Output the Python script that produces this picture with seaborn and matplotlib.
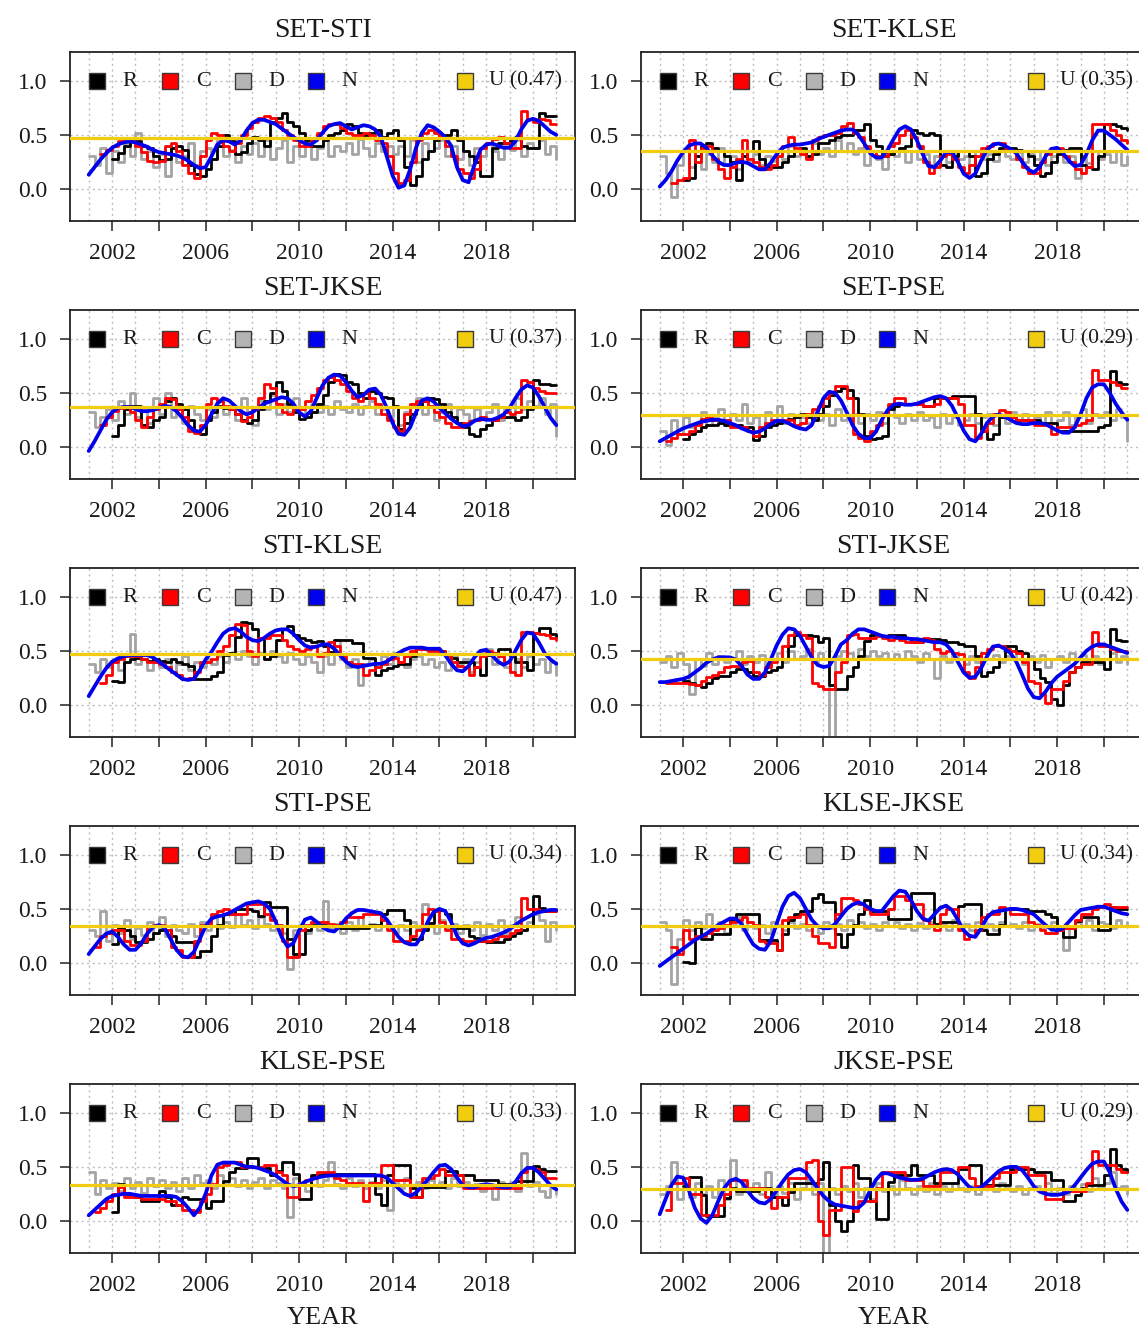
import numpy as np
import pandas as pd
import matplotlib
matplotlib.use("Agg")
import matplotlib.pyplot as plt
from matplotlib.ticker import MultipleLocator
import seaborn as sns

nan = np.nan

# quarterly time grid shared by every series
quarters = np.arange(2001.0, 2021.0 + 1e-9, 0.25)

pairs = ["SET-STI", "SET-KLSE", "SET-JKSE", "SET-PSE", "STI-KLSE",
         "STI-JKSE", "STI-PSE", "KLSE-JKSE", "KLSE-PSE", "JKSE-PSE"]
u_levels = [0.47, 0.35, 0.37, 0.29, 0.47, 0.42, 0.34, 0.34, 0.33, 0.29]

# ---- SET-STI ----
set_sti_R = [nan, nan, nan, nan, 0.28, 0.33, 0.40, 0.45, 0.44, 0.40, 0.38, 0.30, 0.27, 0.28, 0.38, 0.40,
             0.36, 0.22, 0.14, 0.12, 0.18, 0.28, 0.40, 0.50, 0.44, 0.32, 0.34, 0.42, 0.48, 0.45, 0.40, 0.62,
             0.66, 0.70, 0.62, 0.58, 0.52, 0.45, 0.40, 0.40, 0.45, 0.50, 0.52, 0.55, 0.60, 0.58, 0.52, 0.50,
             0.52, 0.55, 0.48, 0.52, 0.55, 0.45, 0.20, 0.03, 0.12, 0.28, 0.35, 0.45, 0.48, 0.50, 0.55, 0.45,
             0.35, 0.30, 0.25, 0.12, 0.12, 0.38, 0.42, 0.42, 0.45, 0.48, 0.40, 0.38, 0.38, 0.70, 0.68, 0.68, 0.68]
set_sti_C = [nan, nan, 0.32, 0.36, 0.40, 0.44, 0.45, 0.44, 0.40, 0.34, 0.26, 0.25, 0.26, 0.40, 0.42, 0.35,
             0.22, 0.15, 0.10, 0.30, 0.45, 0.52, 0.50, 0.40, 0.35, 0.42, 0.50, 0.56, 0.62, 0.66, 0.68, 0.66,
             0.62, 0.55, 0.50, 0.45, 0.40, 0.40, 0.45, 0.52, 0.58, 0.60, 0.60, 0.56, 0.52, 0.50, 0.50, 0.52,
             0.50, 0.45, 0.42, 0.30, 0.15, 0.05, 0.08, 0.25, 0.45, 0.52, 0.55, 0.52, 0.48, 0.40, 0.30, 0.18,
             0.15, 0.10, 0.18, 0.38, 0.42, 0.46, 0.48, 0.42, 0.38, 0.38, 0.72, 0.65, 0.62, 0.65, 0.64, 0.60, 0.60]
set_sti_D = [0.30, 0.22, 0.38, 0.15, 0.35, 0.25, 0.42, 0.30, 0.52, 0.28, 0.35, 0.20, 0.32, 0.12, 0.38, 0.25,
             0.30, 0.42, 0.22, 0.35, 0.38, 0.28, 0.45, 0.30, 0.36, 0.25, 0.40, 0.32, 0.42, 0.30, 0.45, 0.28,
             0.38, 0.45, 0.25, 0.40, 0.30, 0.42, 0.28, 0.38, 0.45, 0.30, 0.40, 0.35, 0.42, 0.32, 0.46, 0.38,
             0.30, 0.42, 0.35, 0.40, 0.32, 0.40, 0.30, 0.45, 0.25, 0.42, 0.35, 0.38, 0.45, 0.30, 0.40, 0.28,
             0.35, 0.22, 0.38, 0.30, 0.42, 0.35, 0.28, 0.40, 0.36, 0.45, 0.30, 0.42, 0.38, 0.45, 0.32, 0.40, 0.28]
set_sti_N = [0.13, 0.20, 0.27, 0.33, 0.38, 0.41, 0.43, 0.44, 0.43, 0.41, 0.39, 0.36, 0.34, 0.33, 0.32, 0.31,
             0.29, 0.26, 0.22, 0.19, 0.20, 0.30, 0.41, 0.45, 0.44, 0.41, 0.45, 0.54, 0.61, 0.64, 0.64, 0.62,
             0.60, 0.56, 0.52, 0.48, 0.45, 0.42, 0.41, 0.45, 0.52, 0.58, 0.60, 0.61, 0.58, 0.55, 0.57, 0.59,
             0.58, 0.55, 0.48, 0.30, 0.12, 0.01, 0.03, 0.18, 0.38, 0.52, 0.59, 0.57, 0.53, 0.48, 0.40, 0.20,
             0.08, 0.06, 0.22, 0.36, 0.41, 0.42, 0.40, 0.38, 0.38, 0.44, 0.55, 0.63, 0.65, 0.63, 0.58, 0.53, 0.50]

# ---- SET-KLSE ----
set_klse_R = [nan, nan, nan, nan, 0.08, 0.10, 0.30, 0.40, 0.42, 0.38, 0.35, 0.30, 0.25, 0.08, 0.30, 0.35,
              0.44, 0.28, 0.20, 0.20, 0.20, 0.25, 0.30, 0.35, 0.38, 0.30, 0.32, 0.42, 0.42, 0.45, 0.48, 0.50,
              0.50, 0.55, 0.55, 0.60, 0.45, 0.40, 0.30, 0.32, 0.35, 0.38, 0.40, 0.55, 0.52, 0.50, 0.52, 0.50,
              0.22, 0.20, 0.30, 0.35, 0.35, 0.30, 0.12, 0.15, 0.28, 0.32, 0.38, 0.38, 0.38, 0.36, 0.35, 0.30,
              0.22, 0.12, 0.15, 0.25, 0.32, 0.36, 0.38, 0.38, 0.22, 0.20, 0.18, 0.30, 0.60, 0.60, 0.58, 0.56, 0.55]
set_klse_C = [nan, nan, 0.05, 0.08, 0.10, 0.45, 0.25, 0.38, 0.40, 0.28, 0.18, 0.10, 0.20, 0.28, 0.45, 0.28,
              0.25, 0.20, 0.18, 0.22, 0.30, 0.40, 0.48, 0.38, 0.32, 0.28, 0.45, 0.48, 0.50, 0.50, 0.52, 0.58,
              0.61, 0.52, 0.48, 0.40, 0.35, 0.30, 0.30, 0.40, 0.42, 0.50, 0.55, 0.48, 0.40, 0.25, 0.15, 0.20,
              0.30, 0.32, 0.28, 0.20, 0.15, 0.22, 0.30, 0.38, 0.40, 0.42, 0.42, 0.38, 0.35, 0.28, 0.20, 0.15,
              0.15, 0.25, 0.32, 0.38, 0.38, 0.30, 0.25, 0.18, 0.15, 0.20, 0.60, 0.60, 0.60, 0.55, 0.50, 0.45, 0.42]
set_klse_D = [0.30, 0.15, -0.08, 0.22, 0.35, 0.20, 0.30, 0.18, 0.32, 0.25, 0.38, 0.22, 0.30, 0.18, 0.35, 0.25,
              0.32, 0.22, 0.30, 0.26, 0.35, 0.28, 0.40, 0.30, 0.36, 0.30, 0.42, 0.32, 0.38, 0.30, 0.45, 0.35,
              0.42, 0.32, 0.38, 0.22, 0.35, 0.28, 0.18, 0.32, 0.30, 0.38, 0.25, 0.35, 0.28, 0.32, 0.22, 0.30,
              0.35, 0.25, 0.32, 0.28, 0.30, 0.22, 0.35, 0.28, 0.32, 0.26, 0.35, 0.30, 0.28, 0.34, 0.25, 0.32,
              0.28, 0.35, 0.22, 0.30, 0.33, 0.25, 0.30, 0.10, 0.30, 0.24, 0.35, 0.28, 0.32, 0.25, 0.35, 0.22, 0.30]
set_klse_N = [0.02, 0.08, 0.16, 0.26, 0.34, 0.40, 0.42, 0.42, 0.38, 0.31, 0.25, 0.22, 0.22, 0.24, 0.25, 0.24,
              0.21, 0.18, 0.18, 0.24, 0.32, 0.38, 0.40, 0.41, 0.41, 0.42, 0.43, 0.46, 0.48, 0.50, 0.52, 0.54,
              0.55, 0.55, 0.50, 0.42, 0.33, 0.29, 0.29, 0.36, 0.46, 0.55, 0.58, 0.55, 0.45, 0.32, 0.21, 0.20,
              0.26, 0.34, 0.34, 0.25, 0.14, 0.10, 0.14, 0.26, 0.36, 0.41, 0.42, 0.40, 0.37, 0.33, 0.25, 0.18,
              0.15, 0.20, 0.30, 0.37, 0.38, 0.33, 0.26, 0.21, 0.22, 0.32, 0.45, 0.54, 0.54, 0.50, 0.46, 0.41, 0.36]

# ---- SET-JKSE ----
set_jkse_R = [nan, nan, nan, nan, 0.10, 0.20, 0.35, 0.38, 0.38, 0.20, 0.18, 0.25, 0.28, 0.42, 0.45, 0.40,
              0.35, 0.25, 0.15, 0.12, 0.25, 0.32, 0.38, 0.36, 0.35, 0.30, 0.25, 0.22, 0.25, 0.35, 0.42, 0.50,
              0.60, 0.52, 0.40, 0.32, 0.26, 0.28, 0.32, 0.40, 0.48, 0.60, 0.68, 0.67, 0.60, 0.58, 0.50, 0.45,
              0.52, 0.50, 0.46, 0.45, 0.38, 0.16, 0.22, 0.30, 0.38, 0.42, 0.45, 0.44, 0.40, 0.32, 0.28, 0.22,
              0.18, 0.12, 0.10, 0.16, 0.20, 0.25, 0.28, 0.28, 0.28, 0.25, 0.28, 0.35, 0.62, 0.58, 0.58, 0.57, 0.57]
set_jkse_C = [nan, nan, 0.20, 0.28, 0.33, 0.36, 0.37, 0.32, 0.25, 0.18, 0.28, 0.35, 0.40, 0.45, 0.44, 0.35,
              0.28, 0.15, 0.13, 0.20, 0.40, 0.45, 0.42, 0.38, 0.35, 0.30, 0.24, 0.28, 0.35, 0.45, 0.58, 0.55,
              0.40, 0.32, 0.30, 0.35, 0.35, 0.42, 0.48, 0.55, 0.62, 0.65, 0.62, 0.58, 0.52, 0.45, 0.42, 0.50,
              0.45, 0.40, 0.30, 0.25, 0.18, 0.15, 0.30, 0.40, 0.42, 0.42, 0.38, 0.32, 0.28, 0.22, 0.18, 0.18,
              0.22, 0.24, 0.25, 0.28, 0.26, 0.25, 0.28, 0.32, 0.30, 0.32, 0.62, 0.60, 0.55, 0.52, 0.50, 0.50, 0.50]
set_jkse_D = [0.32, 0.18, 0.28, 0.35, 0.25, 0.42, 0.30, 0.50, 0.28, 0.35, 0.22, 0.45, 0.30, 0.50, 0.28, 0.35,
              0.22, 0.38, 0.30, 0.25, 0.35, 0.28, 0.42, 0.30, 0.38, 0.25, 0.45, 0.32, 0.20, 0.42, 0.35, 0.48,
              0.30, 0.40, 0.32, 0.45, 0.35, 0.28, 0.40, 0.32, 0.38, 0.30, 0.42, 0.35, 0.32, 0.40, 0.30, 0.38,
              0.42, 0.30, 0.35, 0.28, 0.38, 0.20, 0.32, 0.40, 0.45, 0.30, 0.38, 0.25, 0.32, 0.40, 0.28, 0.35,
              0.30, 0.25, 0.35, 0.28, 0.32, 0.40, 0.25, 0.35, 0.30, 0.45, 0.35, 0.42, 0.38, 0.45, 0.30, 0.40, 0.10]
set_jkse_N = [-0.04, 0.05, 0.15, 0.25, 0.32, 0.36, 0.37, 0.37, 0.35, 0.33, 0.33, 0.34, 0.36, 0.38, 0.37, 0.33,
              0.27, 0.20, 0.15, 0.14, 0.20, 0.30, 0.40, 0.45, 0.43, 0.38, 0.33, 0.30, 0.32, 0.36, 0.40, 0.42,
              0.44, 0.46, 0.45, 0.40, 0.32, 0.28, 0.33, 0.45, 0.57, 0.64, 0.67, 0.66, 0.60, 0.52, 0.46, 0.48,
              0.53, 0.54, 0.48, 0.36, 0.22, 0.12, 0.11, 0.18, 0.32, 0.43, 0.45, 0.42, 0.36, 0.31, 0.26, 0.22,
              0.19, 0.20, 0.24, 0.26, 0.25, 0.25, 0.27, 0.30, 0.36, 0.45, 0.53, 0.57, 0.55, 0.47, 0.37, 0.27, 0.20]

# ---- SET-PSE ----
set_pse_R = [nan, nan, nan, nan, 0.07, 0.12, 0.15, 0.18, 0.20, 0.20, 0.22, 0.20, 0.20, 0.20, 0.18, 0.18,
             0.06, 0.10, 0.18, 0.20, 0.22, 0.24, 0.26, 0.28, 0.30, 0.28, 0.25, 0.30, 0.38, 0.48, 0.52, 0.55,
             0.53, 0.45, 0.30, 0.10, 0.07, 0.08, 0.10, 0.35, 0.38, 0.40, 0.40, 0.40, 0.40, 0.38, 0.38, 0.45,
             0.45, 0.45, 0.47, 0.47, 0.47, 0.47, 0.30, 0.15, 0.07, 0.12, 0.28, 0.28, 0.28, 0.25, 0.25, 0.25,
             0.25, 0.22, 0.22, 0.22, 0.15, 0.15, 0.15, 0.15, 0.15, 0.15, 0.15, 0.18, 0.20, 0.70, 0.60, 0.58, 0.58]
set_pse_C = [nan, 0.05, 0.08, 0.12, 0.12, 0.15, 0.20, 0.26, 0.28, 0.25, 0.25, 0.25, 0.18, 0.18, 0.18, 0.15,
             0.10, 0.18, 0.22, 0.25, 0.25, 0.25, 0.25, 0.20, 0.22, 0.30, 0.35, 0.38, 0.45, 0.50, 0.56, 0.56,
             0.45, 0.12, 0.08, 0.05, 0.15, 0.20, 0.30, 0.40, 0.45, 0.45, 0.40, 0.40, 0.40, 0.38, 0.38, 0.40,
             0.45, 0.45, 0.45, 0.40, 0.20, 0.20, 0.08, 0.15, 0.22, 0.30, 0.34, 0.32, 0.28, 0.25, 0.25, 0.25,
             0.20, 0.20, 0.20, 0.12, 0.18, 0.18, 0.18, 0.20, 0.22, 0.25, 0.71, 0.62, 0.62, 0.60, 0.57, 0.55, 0.55]
set_pse_D = [0.15, 0.02, 0.25, 0.12, 0.28, 0.18, 0.22, 0.32, 0.20, 0.28, 0.35, 0.22, 0.30, 0.25, 0.40, 0.22,
             0.28, 0.18, 0.32, 0.25, 0.38, 0.22, 0.30, 0.20, 0.28, 0.22, 0.32, 0.25, 0.30, 0.20, 0.35, 0.25,
             0.28, 0.30, 0.22, 0.30, 0.25, 0.32, 0.22, 0.35, 0.28, 0.22, 0.30, 0.25, 0.32, 0.25, 0.28, 0.18,
             0.30, 0.22, 0.28, 0.20, 0.25, 0.30, 0.22, 0.28, 0.30, 0.20, 0.28, 0.22, 0.32, 0.25, 0.30, 0.22,
             0.28, 0.20, 0.32, 0.22, 0.25, 0.32, 0.20, 0.28, 0.35, 0.22, 0.30, 0.28, 0.32, 0.25, 0.35, 0.28, 0.05]
set_pse_N = [0.05, 0.08, 0.11, 0.14, 0.17, 0.19, 0.21, 0.23, 0.24, 0.25, 0.25, 0.24, 0.22, 0.20, 0.17, 0.15,
             0.13, 0.14, 0.17, 0.21, 0.24, 0.24, 0.22, 0.19, 0.17, 0.16, 0.20, 0.32, 0.45, 0.51, 0.50, 0.43,
             0.32, 0.20, 0.12, 0.08, 0.08, 0.14, 0.25, 0.34, 0.39, 0.40, 0.39, 0.39, 0.40, 0.42, 0.44, 0.46,
             0.47, 0.45, 0.38, 0.27, 0.15, 0.07, 0.05, 0.12, 0.22, 0.28, 0.30, 0.28, 0.25, 0.22, 0.21, 0.21,
             0.22, 0.22, 0.21, 0.18, 0.15, 0.13, 0.13, 0.18, 0.30, 0.45, 0.55, 0.58, 0.58, 0.50, 0.40, 0.32, 0.25]

# ---- STI-KLSE ----
sti_klse_R = [nan, nan, nan, nan, 0.22, 0.21, 0.40, 0.42, 0.43, 0.42, 0.41, 0.42, 0.41, 0.40, 0.42, 0.40,
              0.38, 0.36, 0.24, 0.24, 0.24, 0.27, 0.30, 0.46, 0.48, 0.63, 0.77, 0.76, 0.70, 0.62, 0.42, 0.45,
              0.60, 0.70, 0.73, 0.65, 0.62, 0.60, 0.58, 0.59, 0.55, 0.49, 0.60, 0.60, 0.60, 0.57, 0.57, 0.43,
              0.43, 0.28, 0.32, 0.34, 0.36, 0.38, 0.38, 0.45, 0.53, 0.52, 0.51, 0.51, 0.50, 0.46, 0.43, 0.40,
              0.40, 0.40, 0.35, 0.28, 0.46, 0.48, 0.52, 0.52, 0.45, 0.40, 0.40, 0.32, 0.67, 0.71, 0.71, 0.66, 0.63]
sti_klse_C = [nan, nan, 0.20, 0.28, 0.40, 0.42, 0.45, 0.45, 0.45, 0.42, 0.40, 0.40, 0.38, 0.35, 0.30, 0.28,
              0.24, 0.25, 0.30, 0.40, 0.40, 0.42, 0.50, 0.55, 0.65, 0.75, 0.74, 0.50, 0.45, 0.62, 0.62, 0.65,
              0.65, 0.60, 0.55, 0.52, 0.50, 0.52, 0.55, 0.45, 0.48, 0.58, 0.55, 0.45, 0.40, 0.38, 0.38, 0.28,
              0.32, 0.35, 0.38, 0.42, 0.43, 0.40, 0.45, 0.50, 0.52, 0.52, 0.50, 0.50, 0.50, 0.45, 0.40, 0.36,
              0.35, 0.28, 0.35, 0.45, 0.50, 0.48, 0.45, 0.40, 0.30, 0.28, 0.68, 0.68, 0.67, 0.66, 0.65, 0.62, 0.60]
sti_klse_D = [0.38, 0.30, 0.42, 0.35, 0.40, 0.32, 0.45, 0.66, 0.38, 0.42, 0.32, 0.40, 0.35, 0.42, 0.30, 0.38,
              0.45, 0.32, 0.40, 0.35, 0.42, 0.38, 0.45, 0.40, 0.48, 0.42, 0.50, 0.45, 0.38, 0.48, 0.42, 0.50,
              0.45, 0.40, 0.48, 0.42, 0.38, 0.45, 0.40, 0.30, 0.45, 0.38, 0.60, 0.42, 0.35, 0.42, 0.18, 0.38,
              0.42, 0.35, 0.45, 0.38, 0.48, 0.40, 0.35, 0.42, 0.45, 0.38, 0.42, 0.35, 0.40, 0.32, 0.45, 0.38,
              0.42, 0.30, 0.40, 0.48, 0.52, 0.38, 0.45, 0.35, 0.30, 0.42, 0.35, 0.45, 0.38, 0.42, 0.30, 0.40, 0.28]
sti_klse_N = [0.08, 0.17, 0.26, 0.34, 0.40, 0.43, 0.45, 0.46, 0.46, 0.46, 0.46, 0.44, 0.40, 0.36, 0.32, 0.28,
              0.24, 0.23, 0.24, 0.32, 0.42, 0.49, 0.58, 0.66, 0.70, 0.71, 0.68, 0.63, 0.60, 0.59, 0.62, 0.66,
              0.69, 0.70, 0.70, 0.66, 0.60, 0.55, 0.53, 0.54, 0.56, 0.56, 0.52, 0.46, 0.40, 0.36, 0.35, 0.36,
              0.37, 0.38, 0.38, 0.40, 0.44, 0.48, 0.51, 0.53, 0.53, 0.53, 0.52, 0.52, 0.52, 0.46, 0.38, 0.32,
              0.31, 0.36, 0.44, 0.50, 0.51, 0.46, 0.40, 0.37, 0.40, 0.50, 0.60, 0.67, 0.66, 0.58, 0.48, 0.42, 0.38]

# ---- STI-JKSE ----
sti_jkse_R = [nan, nan, nan, nan, 0.22, 0.20, 0.18, 0.16, 0.20, 0.25, 0.27, 0.27, 0.30, 0.33, 0.33, 0.30,
              0.27, 0.27, 0.30, 0.32, 0.35, 0.42, 0.55, 0.65, 0.65, 0.65, 0.64, 0.58, 0.62, 0.18, 0.15, 0.15,
              0.27, 0.35, 0.45, 0.59, 0.65, 0.65, 0.64, 0.65, 0.65, 0.65, 0.62, 0.58, 0.58, 0.60, 0.61, 0.61,
              0.60, 0.58, 0.58, 0.56, 0.55, 0.55, 0.45, 0.27, 0.30, 0.35, 0.42, 0.55, 0.55, 0.50, 0.48, 0.42,
              0.33, 0.25, 0.21, 0.05, 0.00, 0.18, 0.30, 0.35, 0.40, 0.40, 0.40, 0.40, 0.33, 0.70, 0.60, 0.59, 0.59]
sti_jkse_C = [nan, 0.20, 0.20, 0.20, 0.20, 0.19, 0.18, 0.22, 0.26, 0.28, 0.30, 0.35, 0.36, 0.36, 0.40, 0.41,
              0.30, 0.28, 0.35, 0.40, 0.42, 0.55, 0.65, 0.68, 0.65, 0.62, 0.20, 0.17, 0.15, 0.15, 0.30, 0.40,
              0.65, 0.66, 0.62, 0.62, 0.62, 0.64, 0.62, 0.60, 0.62, 0.60, 0.58, 0.58, 0.58, 0.62, 0.60, 0.52,
              0.48, 0.50, 0.48, 0.47, 0.30, 0.25, 0.35, 0.48, 0.52, 0.55, 0.55, 0.52, 0.50, 0.48, 0.40, 0.22,
              0.20, 0.10, 0.02, 0.15, 0.15, 0.22, 0.30, 0.35, 0.38, 0.38, 0.68, 0.55, 0.55, 0.52, 0.50, 0.50, 0.50]
sti_jkse_D = [0.40, 0.45, 0.35, 0.48, 0.38, 0.10, 0.42, 0.36, 0.48, 0.38, 0.45, 0.40, 0.42, 0.50, 0.38, 0.45,
              0.40, 0.46, 0.35, 0.42, 0.48, 0.40, 0.50, 0.42, 0.45, 0.52, 0.40, 0.48, 0.42, -0.35, 0.45, 0.50,
              0.48, 0.42, 0.52, 0.45, 0.50, 0.45, 0.48, 0.42, 0.47, 0.42, 0.50, 0.45, 0.40, 0.48, 0.42, 0.25,
              0.45, 0.40, 0.48, 0.42, 0.38, 0.45, 0.40, 0.48, 0.42, 0.46, 0.40, 0.45, 0.42, 0.48, 0.38, 0.45,
              0.40, 0.46, 0.35, 0.42, 0.45, 0.40, 0.48, 0.42, 0.46, 0.40, 0.45, 0.38, 0.42, 0.48, 0.40, 0.45, 0.38]
sti_jkse_N = [0.21, 0.21, 0.22, 0.23, 0.24, 0.26, 0.30, 0.34, 0.39, 0.42, 0.44, 0.44, 0.44, 0.42, 0.36, 0.28,
              0.24, 0.24, 0.30, 0.42, 0.55, 0.65, 0.71, 0.70, 0.64, 0.54, 0.44, 0.37, 0.35, 0.36, 0.45, 0.56,
              0.60, 0.66, 0.70, 0.70, 0.68, 0.66, 0.64, 0.63, 0.63, 0.62, 0.62, 0.61, 0.61, 0.60, 0.59, 0.58,
              0.58, 0.56, 0.50, 0.40, 0.30, 0.25, 0.26, 0.34, 0.45, 0.54, 0.55, 0.52, 0.48, 0.40, 0.28, 0.15,
              0.07, 0.06, 0.12, 0.20, 0.26, 0.30, 0.34, 0.38, 0.44, 0.50, 0.54, 0.56, 0.56, 0.54, 0.52, 0.50, 0.48]

# ---- STI-PSE ----
sti_pse_R = [nan, nan, nan, nan, 0.17, 0.32, 0.30, 0.25, 0.19, 0.19, 0.22, 0.28, 0.30, 0.30, 0.25, 0.19,
             0.19, 0.19, 0.05, 0.11, 0.11, 0.25, 0.35, 0.45, 0.45, 0.50, 0.50, 0.50, 0.48, 0.43, 0.56, 0.52,
             0.52, 0.52, 0.22, 0.08, 0.08, 0.30, 0.35, 0.35, 0.35, 0.35, 0.35, 0.32, 0.32, 0.32, 0.32, 0.32,
             0.35, 0.35, 0.45, 0.49, 0.49, 0.49, 0.40, 0.22, 0.22, 0.30, 0.37, 0.49, 0.49, 0.45, 0.32, 0.32,
             0.32, 0.25, 0.23, 0.20, 0.19, 0.19, 0.19, 0.22, 0.25, 0.28, 0.30, 0.34, 0.62, 0.51, 0.48, 0.48, 0.48]
sti_pse_C = [nan, 0.15, 0.25, 0.28, 0.30, 0.30, 0.20, 0.16, 0.16, 0.20, 0.34, 0.35, 0.35, 0.30, 0.15, 0.12,
             0.05, 0.05, 0.20, 0.35, 0.35, 0.45, 0.48, 0.50, 0.45, 0.45, 0.45, 0.55, 0.55, 0.55, 0.45, 0.40,
             0.35, 0.20, 0.05, 0.05, 0.30, 0.35, 0.38, 0.38, 0.38, 0.36, 0.35, 0.38, 0.42, 0.42, 0.42, 0.45,
             0.45, 0.45, 0.40, 0.30, 0.20, 0.20, 0.20, 0.25, 0.30, 0.45, 0.50, 0.48, 0.38, 0.30, 0.22, 0.22,
             0.20, 0.20, 0.20, 0.20, 0.20, 0.22, 0.25, 0.25, 0.28, 0.30, 0.60, 0.50, 0.50, 0.48, 0.48, 0.48, 0.48]
sti_pse_D = [0.30, 0.25, 0.48, 0.20, 0.35, 0.28, 0.40, 0.22, 0.32, 0.26, 0.38, 0.28, 0.42, 0.25, 0.35, 0.30,
             0.28, 0.36, 0.25, 0.38, 0.30, 0.42, 0.32, 0.38, 0.33, 0.45, 0.35, 0.40, 0.32, 0.42, 0.36, 0.30,
             0.35, 0.28, -0.06, 0.30, 0.35, 0.28, 0.38, 0.30, 0.57, 0.32, 0.36, 0.28, 0.38, 0.30, 0.42, 0.33,
             0.36, 0.30, 0.40, 0.32, 0.28, 0.35, 0.30, 0.38, 0.32, 0.55, 0.35, 0.28, 0.40, 0.32, 0.36, 0.28,
             0.35, 0.30, 0.38, 0.26, 0.36, 0.30, 0.40, 0.28, 0.35, 0.42, 0.30, 0.38, 0.45, 0.40, 0.20, 0.38, 0.30]
sti_pse_N = [0.08, 0.15, 0.22, 0.27, 0.29, 0.24, 0.17, 0.12, 0.12, 0.18, 0.27, 0.33, 0.35, 0.32, 0.22, 0.12,
             0.06, 0.05, 0.10, 0.22, 0.34, 0.41, 0.43, 0.44, 0.46, 0.49, 0.52, 0.55, 0.56, 0.57, 0.55, 0.50,
             0.38, 0.24, 0.15, 0.18, 0.30, 0.40, 0.42, 0.38, 0.33, 0.30, 0.29, 0.34, 0.41, 0.46, 0.49, 0.49,
             0.48, 0.47, 0.46, 0.40, 0.32, 0.24, 0.19, 0.17, 0.17, 0.25, 0.38, 0.47, 0.50, 0.48, 0.38, 0.25,
             0.18, 0.16, 0.18, 0.21, 0.23, 0.24, 0.26, 0.28, 0.31, 0.35, 0.39, 0.42, 0.45, 0.47, 0.48, 0.49, 0.49]

# ---- KLSE-JKSE ----
klse_jkse_R = [nan, nan, nan, nan, 0.01, 0.00, 0.33, 0.22, 0.22, 0.27, 0.27, 0.27, 0.40, 0.45, 0.45, 0.45,
               0.45, 0.21, 0.21, 0.21, 0.12, 0.27, 0.40, 0.45, 0.48, 0.48, 0.60, 0.64, 0.56, 0.56, 0.27, 0.15,
               0.27, 0.35, 0.45, 0.58, 0.48, 0.48, 0.48, 0.41, 0.41, 0.41, 0.41, 0.65, 0.65, 0.65, 0.65, 0.36,
               0.38, 0.38, 0.38, 0.53, 0.55, 0.55, 0.55, 0.30, 0.27, 0.27, 0.35, 0.50, 0.50, 0.50, 0.50, 0.48,
               0.48, 0.48, 0.45, 0.42, 0.30, 0.24, 0.24, 0.39, 0.42, 0.42, 0.42, 0.30, 0.30, 0.52, 0.50, 0.50, 0.50]
klse_jkse_C = [nan, nan, 0.15, 0.08, 0.30, 0.22, 0.25, 0.25, 0.28, 0.30, 0.32, 0.35, 0.38, 0.40, 0.42, 0.38,
               0.35, 0.20, 0.18, 0.18, 0.12, 0.40, 0.42, 0.42, 0.45, 0.35, 0.25, 0.18, 0.18, 0.15, 0.45, 0.60,
               0.60, 0.58, 0.55, 0.50, 0.45, 0.45, 0.45, 0.50, 0.62, 0.62, 0.58, 0.55, 0.55, 0.40, 0.35, 0.30,
               0.45, 0.50, 0.50, 0.30, 0.22, 0.25, 0.30, 0.42, 0.45, 0.45, 0.52, 0.50, 0.45, 0.45, 0.45, 0.38,
               0.35, 0.30, 0.28, 0.28, 0.30, 0.32, 0.32, 0.40, 0.45, 0.45, 0.50, 0.52, 0.55, 0.52, 0.52, 0.52, 0.52]
klse_jkse_D = [0.38, 0.30, -0.20, 0.22, 0.40, 0.30, 0.38, 0.32, 0.45, 0.30, 0.38, 0.28, 0.35, 0.42, 0.30, 0.38,
               0.32, 0.35, 0.28, 0.38, 0.35, 0.30, 0.38, 0.32, 0.36, 0.30, 0.35, 0.28, 0.38, 0.32, 0.36, 0.30,
               0.40, 0.34, 0.38, 0.32, 0.36, 0.30, 0.38, 0.34, 0.38, 0.32, 0.36, 0.30, 0.37, 0.32, 0.38, 0.34,
               0.36, 0.30, 0.40, 0.32, 0.36, 0.30, 0.38, 0.33, 0.36, 0.30, 0.38, 0.34, 0.36, 0.32, 0.38, 0.30,
               0.36, 0.32, 0.28, 0.38, 0.30, 0.12, 0.32, 0.38, 0.34, 0.40, 0.30, 0.38, 0.36, 0.32, 0.40, 0.34, 0.38]
klse_jkse_N = [-0.03, 0.01, 0.05, 0.09, 0.13, 0.17, 0.21, 0.24, 0.27, 0.31, 0.35, 0.38, 0.41, 0.41, 0.36, 0.26,
               0.17, 0.13, 0.12, 0.20, 0.36, 0.52, 0.62, 0.65, 0.60, 0.50, 0.40, 0.34, 0.32, 0.32, 0.36, 0.43,
               0.50, 0.54, 0.56, 0.54, 0.50, 0.48, 0.48, 0.55, 0.62, 0.67, 0.66, 0.58, 0.48, 0.41, 0.39, 0.45,
               0.51, 0.53, 0.49, 0.40, 0.30, 0.25, 0.24, 0.32, 0.42, 0.47, 0.48, 0.49, 0.50, 0.50, 0.49, 0.47,
               0.45, 0.40, 0.35, 0.31, 0.30, 0.32, 0.38, 0.44, 0.49, 0.50, 0.51, 0.52, 0.52, 0.50, 0.48, 0.46, 0.45]

# ---- KLSE-PSE ----
klse_pse_R = [nan, nan, nan, nan, 0.08, 0.34, 0.25, 0.25, 0.22, 0.18, 0.18, 0.18, 0.28, 0.22, 0.15, 0.15,
              0.22, 0.20, 0.20, 0.20, 0.12, 0.18, 0.18, 0.37, 0.45, 0.49, 0.49, 0.58, 0.58, 0.49, 0.49, 0.42,
              0.46, 0.55, 0.55, 0.43, 0.20, 0.20, 0.42, 0.42, 0.43, 0.43, 0.43, 0.43, 0.43, 0.43, 0.43, 0.43,
              0.43, 0.25, 0.15, 0.42, 0.52, 0.52, 0.52, 0.30, 0.22, 0.31, 0.31, 0.31, 0.31, 0.46, 0.46, 0.42,
              0.42, 0.42, 0.38, 0.38, 0.38, 0.38, 0.34, 0.34, 0.34, 0.37, 0.37, 0.37, 0.51, 0.48, 0.46, 0.46, 0.46]
klse_pse_C = [nan, 0.08, 0.12, 0.18, 0.25, 0.31, 0.22, 0.22, 0.22, 0.20, 0.20, 0.20, 0.20, 0.18, 0.18, 0.15,
              0.10, 0.10, 0.08, 0.18, 0.25, 0.34, 0.50, 0.52, 0.55, 0.55, 0.50, 0.50, 0.50, 0.50, 0.52, 0.52,
              0.45, 0.42, 0.22, 0.22, 0.35, 0.38, 0.40, 0.45, 0.45, 0.45, 0.40, 0.38, 0.35, 0.35, 0.35, 0.18,
              0.35, 0.35, 0.52, 0.52, 0.38, 0.38, 0.38, 0.22, 0.22, 0.40, 0.40, 0.42, 0.48, 0.42, 0.42, 0.42,
              0.30, 0.30, 0.30, 0.30, 0.30, 0.30, 0.30, 0.30, 0.30, 0.30, 0.45, 0.50, 0.48, 0.45, 0.40, 0.40, 0.40]
klse_pse_D = [0.45, 0.25, 0.38, 0.30, 0.35, 0.28, 0.40, 0.30, 0.36, 0.26, 0.40, 0.32, 0.38, 0.30, 0.36, 0.28,
              0.40, 0.30, 0.42, 0.35, 0.38, 0.30, 0.42, 0.34, 0.40, 0.32, 0.38, 0.30, 0.36, 0.40, 0.30, 0.38,
              0.35, 0.30, 0.03, 0.40, 0.35, 0.28, 0.40, 0.32, 0.38, 0.55, 0.34, 0.30, 0.40, 0.32, 0.38, 0.30,
              0.36, 0.30, 0.38, 0.10, 0.36, 0.30, 0.40, 0.32, 0.36, 0.30, 0.38, 0.32, 0.36, 0.30, 0.40, 0.32,
              0.36, 0.30, 0.34, 0.28, 0.34, 0.20, 0.36, 0.30, 0.36, 0.28, 0.63, 0.32, 0.36, 0.28, 0.22, 0.30, 0.25]
klse_pse_N = [0.05, 0.10, 0.15, 0.20, 0.23, 0.24, 0.25, 0.25, 0.24, 0.23, 0.23, 0.23, 0.23, 0.23, 0.23, 0.22,
              0.18, 0.12, 0.05, 0.12, 0.25, 0.42, 0.52, 0.54, 0.54, 0.54, 0.52, 0.50, 0.50, 0.49, 0.47, 0.45,
              0.42, 0.38, 0.34, 0.32, 0.33, 0.36, 0.38, 0.40, 0.41, 0.42, 0.42, 0.42, 0.42, 0.42, 0.42, 0.42,
              0.42, 0.42, 0.42, 0.40, 0.35, 0.30, 0.25, 0.23, 0.26, 0.32, 0.38, 0.45, 0.51, 0.52, 0.48, 0.40,
              0.33, 0.31, 0.31, 0.33, 0.34, 0.33, 0.32, 0.31, 0.31, 0.36, 0.44, 0.49, 0.49, 0.45, 0.39, 0.33, 0.29]

# ---- JKSE-PSE ----
jkse_pse_R = [nan, nan, nan, nan, 0.32, 0.41, 0.41, 0.24, 0.04, 0.04, 0.04, 0.21, 0.30, 0.28, 0.28, 0.28,
              0.28, 0.30, 0.30, 0.22, 0.22, 0.15, 0.27, 0.35, 0.35, 0.35, 0.35, 0.39, 0.55, 0.15, 0.00, -0.10,
              0.00, 0.52, 0.40, 0.40, 0.18, 0.02, 0.02, 0.36, 0.42, 0.42, 0.42, 0.52, 0.42, 0.42, 0.42, 0.35,
              0.35, 0.35, 0.35, 0.48, 0.48, 0.52, 0.52, 0.33, 0.33, 0.33, 0.33, 0.33, 0.48, 0.48, 0.48, 0.48,
              0.45, 0.45, 0.45, 0.38, 0.38, 0.18, 0.18, 0.24, 0.30, 0.33, 0.33, 0.33, 0.42, 0.67, 0.52, 0.48, 0.45]
jkse_pse_C = [nan, 0.10, 0.35, 0.35, 0.40, 0.25, 0.25, 0.05, 0.05, 0.05, 0.15, 0.25, 0.38, 0.38, 0.38, 0.30,
              0.30, 0.30, 0.22, 0.12, 0.22, 0.22, 0.40, 0.40, 0.40, 0.55, 0.56, 0.00, -0.13, 0.10, 0.10, 0.50,
              0.50, 0.09, 0.18, 0.18, 0.18, 0.30, 0.45, 0.45, 0.45, 0.45, 0.38, 0.38, 0.38, 0.32, 0.32, 0.32,
              0.45, 0.45, 0.45, 0.50, 0.50, 0.40, 0.32, 0.32, 0.32, 0.40, 0.45, 0.45, 0.45, 0.50, 0.50, 0.42,
              0.42, 0.42, 0.20, 0.20, 0.20, 0.28, 0.28, 0.28, 0.28, 0.35, 0.65, 0.52, 0.52, 0.52, 0.48, 0.45, 0.45]
jkse_pse_D = [0.25, 0.32, 0.55, 0.20, 0.30, 0.22, 0.35, 0.25, 0.32, 0.22, 0.38, 0.20, 0.56, 0.25, 0.35, 0.28,
              0.35, 0.25, 0.45, 0.22, 0.32, 0.26, 0.35, 0.20, 0.30, 0.38, 0.25, 0.35, -0.31, 0.30, 0.25, 0.32,
              0.28, 0.35, 0.22, 0.30, 0.20, 0.35, 0.28, 0.32, 0.25, 0.38, 0.30, 0.25, 0.32, 0.28, 0.35, 0.25,
              0.32, 0.28, 0.35, 0.30, 0.28, 0.32, 0.25, 0.30, 0.32, 0.28, 0.35, 0.30, 0.28, 0.32, 0.25, 0.30,
              0.32, 0.28, 0.35, 0.26, 0.30, 0.25, 0.32, 0.28, 0.34, 0.28, 0.40, 0.30, 0.35, 0.45, 0.30, 0.32, 0.25]
jkse_pse_N = [0.06, 0.20, 0.33, 0.41, 0.40, 0.28, 0.12, 0.02, -0.02, 0.05, 0.18, 0.30, 0.37, 0.39, 0.36, 0.28,
              0.21, 0.17, 0.16, 0.20, 0.28, 0.36, 0.43, 0.47, 0.48, 0.45, 0.38, 0.30, 0.23, 0.18, 0.15, 0.14,
              0.13, 0.12, 0.12, 0.17, 0.28, 0.38, 0.44, 0.44, 0.42, 0.40, 0.39, 0.38, 0.38, 0.39, 0.42, 0.45,
              0.47, 0.48, 0.47, 0.43, 0.37, 0.31, 0.29, 0.31, 0.36, 0.41, 0.46, 0.49, 0.50, 0.50, 0.47, 0.40,
              0.32, 0.27, 0.25, 0.24, 0.24, 0.25, 0.27, 0.33, 0.40, 0.47, 0.53, 0.55, 0.55, 0.45, 0.30, 0.18, 0.10]

panel_series = {
    "SET-STI": (set_sti_R, set_sti_C, set_sti_D, set_sti_N),
    "SET-KLSE": (set_klse_R, set_klse_C, set_klse_D, set_klse_N),
    "SET-JKSE": (set_jkse_R, set_jkse_C, set_jkse_D, set_jkse_N),
    "SET-PSE": (set_pse_R, set_pse_C, set_pse_D, set_pse_N),
    "STI-KLSE": (sti_klse_R, sti_klse_C, sti_klse_D, sti_klse_N),
    "STI-JKSE": (sti_jkse_R, sti_jkse_C, sti_jkse_D, sti_jkse_N),
    "STI-PSE": (sti_pse_R, sti_pse_C, sti_pse_D, sti_pse_N),
    "KLSE-JKSE": (klse_jkse_R, klse_jkse_C, klse_jkse_D, klse_jkse_N),
    "KLSE-PSE": (klse_pse_R, klse_pse_C, klse_pse_D, klse_pse_N),
    "JKSE-PSE": (jkse_pse_R, jkse_pse_C, jkse_pse_D, jkse_pse_N),
}

# long-form table: pair, series code, year, value
records = []
for pair in pairs:
    for code, vals in zip("RCDN", panel_series[pair]):
        assert len(vals) == len(quarters), (pair, code, len(vals))
        for t, v in zip(quarters, vals):
            records.append((pair, code, t, v))
df = pd.DataFrame(records, columns=["pair", "series", "year", "value"])

# ---------------------------------------------------------------- styling
sns.set_style("white")
plt.rcParams["font.family"] = ["Liberation Serif", "DejaVu Serif"]
plt.rcParams["text.color"] = "#1a1a1a"

colors = {"R": "#000000", "C": "#ff0000", "D": "#a4a4a4", "N": "#0000ee"}
widths = {"R": 2.0, "C": 2.0, "D": 2.0, "N": 2.7}
steps = {"R": "steps-post", "C": "steps-post", "D": "steps-post", "N": "default"}
order = {"D": 2, "R": 3, "C": 4, "N": 5}
u_color = "#f2cd0f"
grid_kw = dict(color="#bdbdbd", linestyle=(0, (1.5, 2.5)), linewidth=1.0)

W, H = 1139, 1331
fig = plt.figure(figsize=(W / 100, H / 100), dpi=100)

box_w, box_h = 505, 169
for i, pair in enumerate(pairs):
    row, col = divmod(i, 2)
    left = 70 if col == 0 else 641
    top = 52 + 258 * row
    ax = fig.add_axes([left / W, 1 - (top + box_h) / H, box_w / W, box_h / H])
    sub = df[df["pair"] == pair]

    for code in ["D", "R", "C", "N"]:
        part = sub[sub["series"] == code].dropna()
        sns.lineplot(data=part, x="year", y="value", ax=ax, color=colors[code],
                     lw=widths[code], drawstyle=steps[code], estimator=None,
                     legend=False, zorder=order[code])
    u = u_levels[i]
    ax.axhline(u, color=u_color, lw=2.3, zorder=6)

    ax.set_xlim(2000.2, 2021.8)
    ax.set_ylim(-0.30, 1.27)
    ax.set_xlabel("")
    ax.set_ylabel("")

    xt = list(range(2002, 2021, 2))
    ax.set_xticks(xt)
    ax.set_xticklabels([str(y) if (y - 2002) % 4 == 0 else "" for y in xt])
    ax.xaxis.set_minor_locator(MultipleLocator(1))
    ax.set_yticks([0.0, 0.5, 1.0])
    ax.set_yticklabels(["0.0", "0.5", "1.0"])
    ax.tick_params(axis="both", which="major", direction="out", length=7, width=1.1,
                   color="#222222", labelsize=17, labelcolor="#1a1a1a",
                   bottom=True, left=True)
    ax.tick_params(axis="x", which="major", pad=9)
    ax.tick_params(axis="y", which="major", pad=9)
    ax.tick_params(axis="x", which="minor", length=0, bottom=True)
    ax.set_axisbelow(True)
    ax.grid(True, axis="x", which="both", **grid_kw)
    ax.grid(True, axis="y", which="major", **grid_kw)
    for s in ax.spines.values():
        s.set_visible(True)
        s.set_color("#222222")
        s.set_linewidth(1.3)

    ax.set_title(pair, fontsize=20, pad=11)

    # key row along the top of each panel
    ky = 0.828
    for j, code in enumerate(["R", "C", "D", "N"]):
        kx = 0.053 + j * 0.1446
        ax.plot([kx], [ky], marker="s", ms=11.5, mfc=colors[code] if code != "D" else "#b4b4b4",
                mec="#3a3a3a", mew=1.0, ls="none", transform=ax.transAxes, zorder=8)
        ax.text(kx + 0.066, ky, code, transform=ax.transAxes, ha="center", va="center",
                fontsize=16, zorder=8)
    ax.plot([0.782], [ky], marker="s", ms=11.5, mfc=u_color, mec="#3a3a3a", mew=1.0,
            ls="none", transform=ax.transAxes, zorder=8)
    ax.text(0.830, ky, f"U ({u:.2f})", transform=ax.transAxes, ha="left", va="center",
            fontsize=15.5, zorder=8)

# axis title under each column
for cx in (70 + box_w / 2, 641 + box_w / 2):
    fig.text(cx / W, 1 - 1318 / H, "YEAR", ha="center", va="center", fontsize=19)

fig.savefig("out.png", dpi=100)
